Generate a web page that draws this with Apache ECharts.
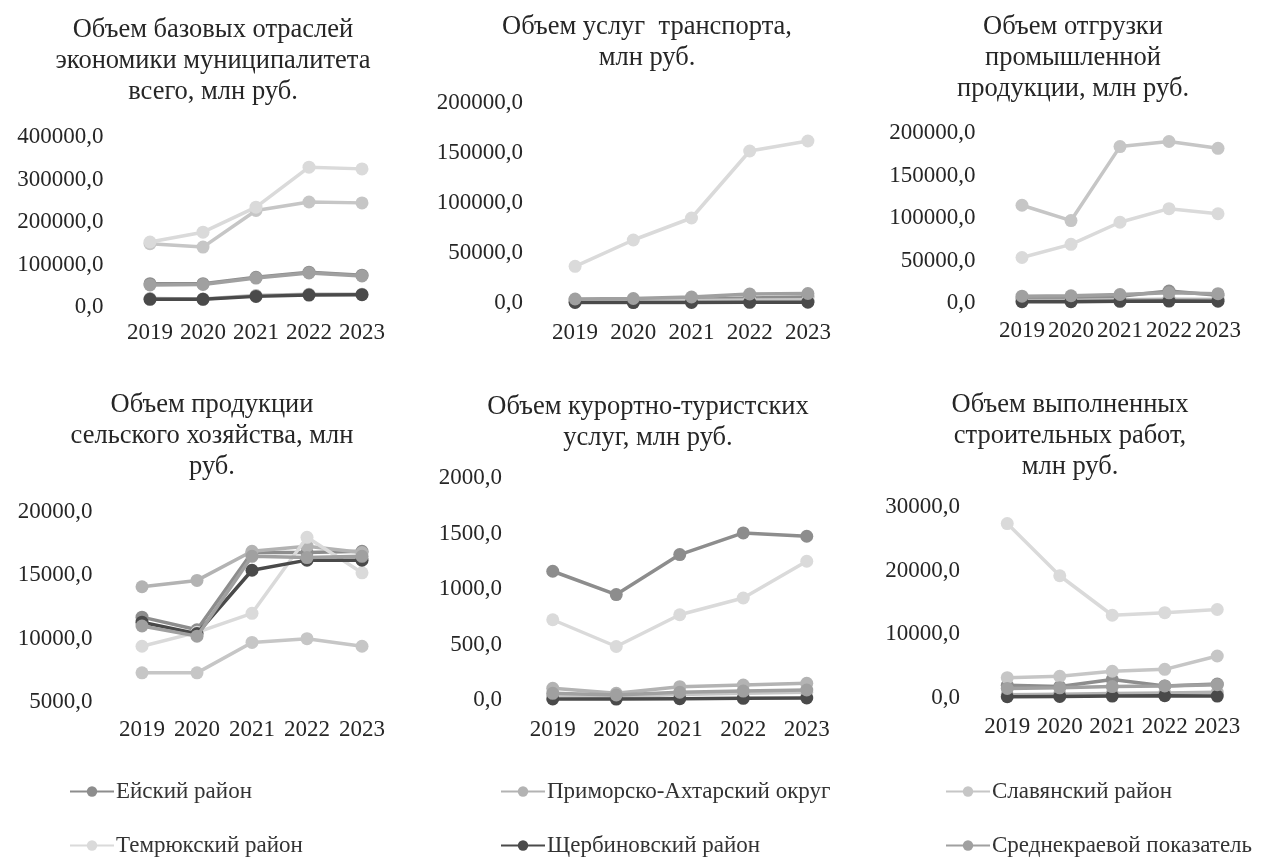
<!DOCTYPE html>
<html>
<head>
<meta charset="utf-8">
<script src="https://cdn.jsdelivr.net/npm/echarts@6/dist/echarts.min.js"></script>
<style>
html,body{margin:0;padding:0;background:#fff;}
#main{width:1261px;height:858px;}
</style>
</head>
<body>
<div id="main"></div>
<script>
// ---- data ----
const years = ['2019', '2020', '2021', '2022', '2023'];
const seriesNames = ['Ейский район', 'Приморско-Ахтарский округ', 'Славянский район',
  'Темрюкский район', 'Щербиновский район', 'Среднекраевой показатель'];
const panelTitles = [
  'Объем базовых отраслей\nэкономики муниципалитета\nвсего, млн руб.',
  'Объем услуг  транспорта,\nмлн руб.',
  'Объем отгрузки\nпромышленной\nпродукции, млн руб.',
  'Объем продукции\nсельского хозяйства, млн\nруб.',
  'Объем курортно-туристских\nуслуг, млн руб.',
  'Объем выполненных\nстроительных работ,\nмлн руб.'
];
// values per series, in seriesNames order
const baseIndustries = [
  [55000, 55000, 70000, 82000, 75000],
  [20000, 19000, 27000, 30000, 30000],
  [149000, 141000, 227000, 247000, 245000],
  [153000, 176000, 235000, 329000, 325000],
  [18000, 18000, 25000, 28000, 29000],
  [52000, 53000, 68000, 80000, 73000]
];
const transport = [
  [3000, 2500, 3500, 5000, 6000],
  [1000, 900, 1200, 1500, 1600],
  [2000, 2200, 2600, 3000, 3200],
  [36700, 63000, 85000, 152000, 162000],
  [500, 400, 600, 700, 800],
  [4000, 4500, 6000, 9000, 9500]
];
const industry = [
  [6000, 6500, 8000, 14000, 9000],
  [3000, 3200, 3800, 4500, 4200],
  [115000, 97000, 184000, 190000, 182000],
  [53500, 69000, 95000, 111000, 105000],
  [1500, 1600, 2000, 2300, 2200],
  [8000, 8500, 10000, 12000, 11000]
];
const agriculture = [
  [11700, 10700, 16800, 16800, 16900],
  [14100, 14600, 16900, 17300, 16800],
  [7300, 7300, 9700, 10000, 9400],
  [9400, 10500, 12000, 18000, 15200],
  [11300, 10400, 15400, 16200, 16200],
  [11000, 10200, 16500, 16400, 16500]
];
const tourism = [
  [1160, 950, 1310, 1505, 1475],
  [105, 60, 120, 135, 150],
  [40, 30, 50, 60, 70],
  [723, 482, 768, 919, 1250],
  [10, 8, 12, 15, 18],
  [60, 45, 70, 80, 90]
];
const construction = [
  [2000, 1800, 2900, 1900, 2200],
  [500, 600, 700, 800, 900],
  [3200, 3400, 4200, 4500, 6600],
  [27400, 19200, 13000, 13400, 13900],
  [200, 250, 300, 350, 300],
  [1500, 1600, 1800, 1900, 2100]
];
const yMin = [0, 0, 0, 5000, 0, 0];
const yMax = [400000, 200000, 200000, 20000, 2000, 30000];
const yStep = [100000, 50000, 50000, 5000, 500, 10000];

// ---- styling / layout ----
const panels = [baseIndustries, transport, industry, agriculture, tourism, construction];
const colors = ['#8d8d8d', '#b3b3b3', '#c6c6c6', '#dadada', '#4a4a4a', '#a0a0a0'];
const FONT = '"Liberation Serif", "Times New Roman", serif';
const grids = [
  {left: 123.5, top: 137, width: 265, height: 170},
  {left: 546, top: 103, width: 291, height: 200},
  {left: 997.5, top: 133, width: 245, height: 170},
  {left: 114.5, top: 512, width: 275, height: 190},
  {left: 521, top: 478, width: 317.5, height: 222},
  {left: 981, top: 507, width: 262.5, height: 191}
];
const yMargins = [20, 23, 22, 22, 19, 21];
const xMargins = [14, 18, 16, 16, 18, 17];
const titlePos = [
  {x: 208, y: 10}, {x: 642, y: 7}, {x: 1068, y: 7},
  {x: 207, y: 385}, {x: 643, y: 387}, {x: 1065, y: 385}
];
const legendPos = [
  {left: 64, top: 775}, {left: 495, top: 775}, {left: 940, top: 775},
  {left: 64, top: 829}, {left: 495, top: 829}, {left: 940, top: 829}
];
const legendOrder = [0, 1, 2, 3, 4, 5];

const option = {
  backgroundColor: '#ffffff',
  animation: false,
  title: panelTitles.map((t, i) => ({
    text: t, left: titlePos[i].x, top: titlePos[i].y, textAlign: 'center',
    textStyle: {fontFamily: FONT, fontSize: 26.5, fontWeight: 'normal', color: '#262626', lineHeight: 31}
  })),
  legend: legendOrder.map((s, i) => ({
    data: [seriesNames[s]], left: legendPos[i].left, top: legendPos[i].top,
    itemWidth: 44, itemHeight: 13, itemGap: 0, selectedMode: false,
    textStyle: {fontFamily: FONT, fontSize: 23, color: '#333', padding: [0, 0, 0, -3]}
  })),
  grid: grids.map(g => Object.assign({containLabel: false}, g)),
  xAxis: grids.map((g, i) => ({
    type: 'category', gridIndex: i, data: years, boundaryGap: true,
    axisLine: {show: false}, axisTick: {show: false}, splitLine: {show: false},
    axisLabel: {interval: 0, hideOverlap: false, margin: xMargins[i], fontFamily: FONT, fontSize: 23, color: '#262626'}
  })),
  yAxis: grids.map((g, i) => ({
    type: 'value', gridIndex: i, min: yMin[i], max: yMax[i], interval: yStep[i],
    axisLine: {show: false}, axisTick: {show: false}, splitLine: {show: false},
    axisLabel: {margin: yMargins[i], fontFamily: FONT, fontSize: 23, color: '#262626',
      formatter: v => v.toFixed(1).replace('.', ',')}
  })),
  series: []
};

panels.forEach((panel, p) => {
  panel.forEach((vals, s) => {
    option.series.push({
      type: 'line', name: seriesNames[s], xAxisIndex: p, yAxisIndex: p,
      data: vals, symbol: 'circle', symbolSize: 13,
      lineStyle: {width: 3.5, color: colors[s]},
      itemStyle: {color: colors[s]},
      z: 2 + s
    });
  });
});

const chart = echarts.init(document.getElementById('main'), null, {renderer: 'canvas'});
chart.setOption(option);
</script>
</body>
</html>
